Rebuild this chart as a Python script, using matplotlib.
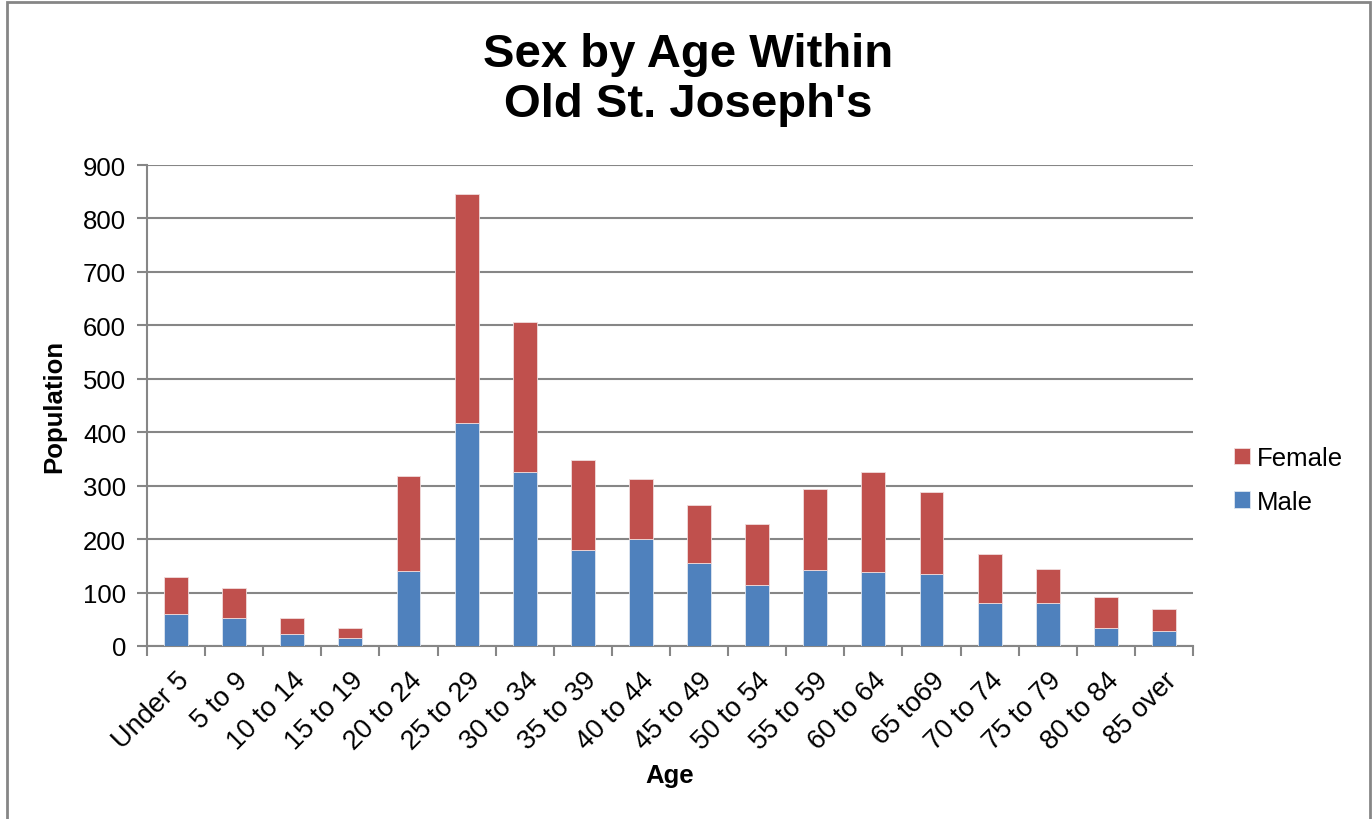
import matplotlib
matplotlib.use("Agg")
import matplotlib.pyplot as plt
from matplotlib.patches import Rectangle
import numpy as np

categories = ["Under 5", "5 to 9", "10 to 14", "15 to 19", "20 to 24", "25 to 29",
              "30 to 34", "35 to 39", "40 to 44", "45 to 49", "50 to 54", "55 to 59",
              "60 to 64", "65 to69", "70 to 74", "75 to 79", "80 to 84", "85 over"]
male = [60, 52, 23, 15, 141, 418, 326, 180, 201, 155, 115, 142, 138, 135, 80, 81, 33, 29]
female = [70, 56, 29, 19, 177, 427, 280, 168, 112, 108, 114, 151, 188, 153, 92, 64, 59, 40]
yticks = [0, 100, 200, 300, 400, 500, 600, 700, 800, 900]

plt.rcParams['font.family'] = ['Liberation Sans', 'DejaVu Sans']

W, H = 1372, 820
fig = plt.figure(figsize=(W / 100, H / 100), dpi=100)
ax = fig.add_axes([147 / W, 1 - 647 / H, (1193 - 147) / W, (647 - 166) / H])

gray = '#868686'
blue = '#4F81BD'
red = '#C0504D'

x = np.arange(len(categories))
bw = 0.41
ax.bar(x, male, bw, color=blue, edgecolor='#dfe6f0', linewidth=0.6, label='Male', zorder=3)
ax.bar(x, female, bw, bottom=male, color=red, edgecolor='#f0dcdc', linewidth=0.6, label='Female', zorder=3)

ax.set_xlim(-0.5, len(categories) - 0.5)
ax.set_ylim(0, 900)
ax.set_yticks(yticks)
ax.set_yticklabels([str(v) for v in yticks], fontsize=18.5)
ax.yaxis.grid(True, color=gray, linewidth=1.5, zorder=0)
ax.set_axisbelow(True)

ax.set_xticks(x)
ax.set_xticklabels(categories, fontsize=19.5, rotation=45, ha='right', va='top',
                   rotation_mode='anchor')
ax.set_xticks(np.arange(-0.5, len(categories), 1.0), minor=True)
ax.tick_params(axis='x', which='major', length=0, pad=15)
ax.tick_params(axis='x', which='minor', length=7, width=1.5, color=gray)
ax.tick_params(axis='y', which='major', length=7, width=1.5, color=gray, pad=8)

for s in ['top', 'right']:
    ax.spines[s].set_visible(False)
for s in ['left', 'bottom']:
    ax.spines[s].set_color(gray)
    ax.spines[s].set_linewidth(1.5)

ax.set_ylabel('Population', fontsize=18.5, fontweight='bold', labelpad=12)
ax.set_xlabel('Age', fontsize=18.5, fontweight='bold', labelpad=6)

fig.text(688 / W, 1 - 80 / H, "Sex by Age Within\nOld St. Joseph's", ha='center', va='center',
         fontsize=34, fontweight='bold', linespacing=1.15)

handles, labels = ax.get_legend_handles_labels()
leg = fig.legend(handles[::-1], labels[::-1], loc='center left',
                 bbox_to_anchor=(1211 / W, 1 - 481 / H), frameon=False, fontsize=18.5,
                 handlelength=0.6, handleheight=0.6, handletextpad=0.3, labelspacing=0.75)

fig.patches.append(Rectangle((7 / W, -0.01), (1370 - 7) / W, 1.01 - 3 / H, transform=fig.transFigure,
                             fill=False, edgecolor=gray, linewidth=2))

fig.savefig('out.png', dpi=100)
